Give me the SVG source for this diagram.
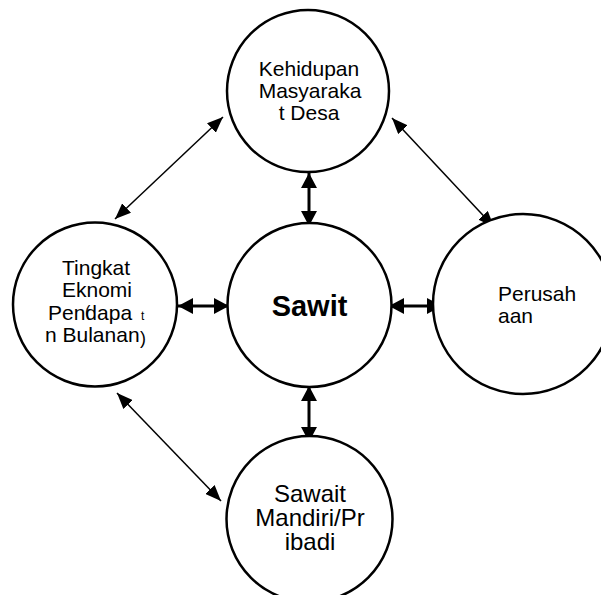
<svg xmlns="http://www.w3.org/2000/svg" width="601" height="595" viewBox="0 0 601 595">
<style>
.node{fill:#fff;stroke:#000;stroke-width:2.5}
.t{font-family:"Liberation Sans",Arial,sans-serif;font-size:21px;fill:#000}
.thick{stroke:#000;stroke-width:3;fill:none;marker-start:url(#hb);marker-end:url(#hb)}
.thin{stroke:#000;stroke-width:1.5;fill:none;marker-start:url(#hs);marker-end:url(#hs)}
</style>
<defs>
<marker id="hb" viewBox="0 0 15 16" refX="15" refY="8" markerWidth="15" markerHeight="16" markerUnits="userSpaceOnUse" orient="auto-start-reverse">
<path d="M0,0 L15,8 L0,16 z" fill="#000"/>
</marker>
<marker id="hs" viewBox="0 0 16 13" refX="16" refY="6.5" markerWidth="16" markerHeight="13" markerUnits="userSpaceOnUse" orient="auto-start-reverse">
<path d="M0,0 L16,6.5 L0,13 z" fill="#000"/>
</marker>
</defs>
<rect width="601" height="595" fill="#fff"/>
<g id="connectors">
<path class="thick" d="M178,306 L229,306"/>
<path class="thick" d="M389,306 L442,306"/>
<path class="thick" d="M309,173 L309,226"/>
<path class="thick" d="M309,386 L309,442"/>
<path class="thin" d="M115,219 L223,117"/>
<path class="thin" d="M392,118 L494,227"/>
<path class="thin" d="M117,393 L221,501"/>
</g>
<g id="node-kehidupan">
<circle class="node" cx="308" cy="91" r="81"/>
<text class="t" x="309" y="76" text-anchor="middle">Kehidupan</text>
<text class="t" x="310" y="98" text-anchor="middle">Masyaraka</text>
<text class="t" x="309" y="120" text-anchor="middle">t Desa</text>
</g>
<g id="node-sawit">
<circle class="node" cx="309.5" cy="305" r="82"/>
<text class="t" x="309.5" y="316" text-anchor="middle" style="font-size:29px;font-weight:bold">Sawit</text>
</g>
<g id="node-tingkat">
<circle class="node" cx="95" cy="304.5" r="82"/>
<text class="t" x="62" y="275">Tingkat</text>
<text class="t" x="62" y="297">Eknomi</text>
<text class="t" x="48" y="320">Pendapa</text>
<text class="t" x="85" y="317" style="font-size:16px">(</text>
<text class="t" x="141" y="320" style="font-size:12px">t</text>
<text class="t" x="45" y="342">n Bulanan</text>
<text class="t" x="140" y="344" style="font-size:18px">)</text>
</g>
<g id="node-perusahaan">
<circle class="node" cx="523" cy="304" r="90"/>
<text class="t" x="498" y="301">Perusah</text>
<text class="t" x="498" y="323">aan</text>
</g>
<g id="node-sawait">
<circle class="node" cx="309.5" cy="519" r="83"/>
<text class="t" x="310" y="502" text-anchor="middle" style="font-size:24px">Sawait</text>
<text class="t" x="310" y="526" text-anchor="middle" style="font-size:24px">Mandiri/Pr</text>
<text class="t" x="310" y="550" text-anchor="middle" style="font-size:24px">ibadi</text>
</g>
</svg>
